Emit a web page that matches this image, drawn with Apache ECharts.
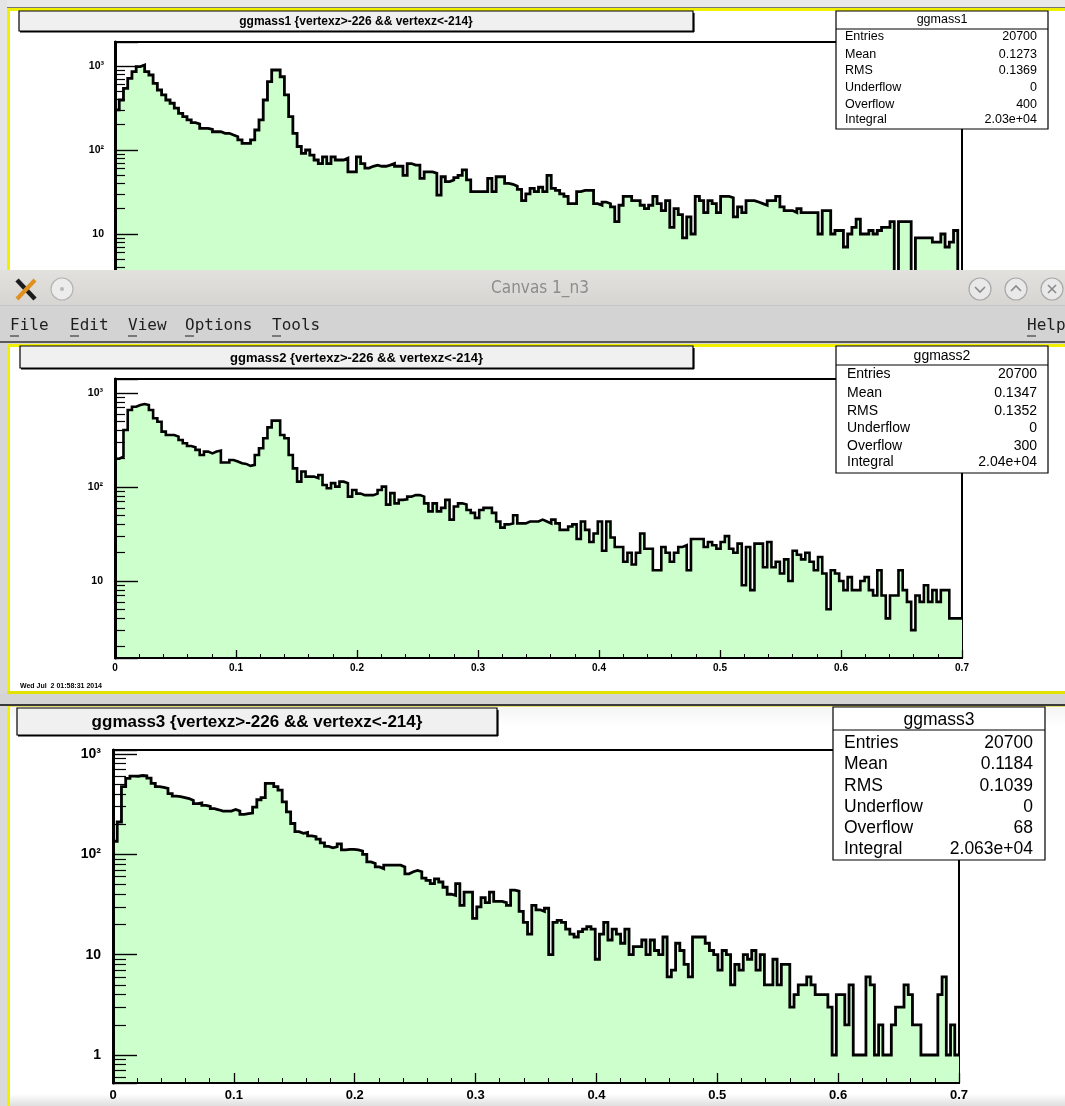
<!DOCTYPE html>
<html><head><meta charset="utf-8">
<script src="https://cdn.jsdelivr.net/npm/echarts@6/dist/echarts.min.js"></script>
<style>html,body{margin:0;padding:0;background:#d9d9d9;}#c{width:1065px;height:1106px;}</style>
</head><body><div id="c"></div>
<script>
// ---------------- DATA ----------------
const xMin = 0, xMax = 0.7;
const xTickLabels = ['0','0.1','0.2','0.3','0.4','0.5','0.6','0.7'];
const yTickValues = [1, 10, 100, 1000];
const yTickText = ['1', '10', '10²', '10³'];

const ggmass1 = [
300,394,543,714,855,982,1028,855,781,622,518,452,394,360,315,273,249,228,212,204,
181,181,176,165,165,158,158,151,144,132,120,120,132,173,228,394,650,896,896,745,
452,249,158,110,91,100,87,76,69,83,69,83,76,76,80,55,55,83,69,61,
64,66,64,64,66,69,64,64,50,69,66,66,46,55,55,53,29,48,42,44,
47,50,58,44,32,32,32,32,46,32,48,48,40,39,37,34,25,30,35,32,
36,32,50,35,33,30,28,23,23,32,33,33,33,23,22,24,23,21,14,22,
28,28,25,25,22,20,22,28,23,19,25,12,20,17,9,16,10,28,25,18,
25,23,18,28,28,27,16,21,18,25,25,24,23,22,25,25,28,21,19,19,
18,20,18,18,18,18,10,19,19,10,11,11,7,10,12,15,10,10,11,10,
11,12,12,14,3,14,14,14,3,9,9,9,9,8,8,10,7,8,11,3];

const ggmass2 = [
200,210,404,660,715,745,764,745,660,538,495,388,358,358,344,316,292,273,265,248,
219,238,228,238,244,182,182,194,187,179,176,168,172,219,258,330,431,508,508,358,
330,219,158,114,146,129,129,124,134,105,97,110,101,114,110,79,93,85,82,82,
82,85,93,101,65,86,67,73,74,79,82,82,79,67,55,67,55,60,73,45,
62,67,65,57,53,47,57,60,60,53,43,37,40,41,50,41,41,43,43,43,
45,43,41,45,41,35,35,38,40,28,43,35,26,32,43,21,43,29,23,23,
16,20,15,20,32,22,22,13,13,23,20,16,20,23,24,13,28,28,28,23,
26,24,22,26,30,22,20,25,9,23,8,25,25,14,26,14,16,12,17,10,
21,19,17,20,16,13,18,12,5,13,12,10,8,11,8,8,10,11,8,7,
13,7,4,7,7,13,8,6,3,7,6,9,6,8,6,8,8,4,4,4];

const ggmass3 = [
135,210,472,572,603,600,610,605,575,510,472,465,455,403,380,375,368,360,345,320,
325,307,300,285,278,270,270,270,280,270,250,254,258,295,350,368,510,510,472,437,
333,265,203,168,162,165,153,150,142,130,120,116,119,127,111,112,112,111,108,100,
84,81,75,72,78,78,78,78,75,64,67,69,67,58,55,51,57,53,47,40,
39,51,31,42,42,23,30,37,33,42,34,34,33,31,44,43,27,21,16,31,
28,27,29,10,21,22,21,18,16,15,17,18,19,18,9,16,21,14,18,16,
13,18,10,12,12,14,10,14,11,10,15,6,7,13,11,8,6,15,15,15,
13,11,10,7,11,10,5,8,7,10,9,11,7,10,5,5,9,5,8,8,
3,4,5,5,6,5,4,4,4,3,1,4,4,2,5,1,1,1,6,5,
1,2,1,1,2,3,3,5,4,2,2,1,1,1,1,4,6,1,2,1];

const histNames = ['ggmass1', 'ggmass2', 'ggmass3'];
const histTitles = ['ggmass1 {vertexz>-226 && vertexz<-214}',
                    'ggmass2 {vertexz>-226 && vertexz<-214}',
                    'ggmass3 {vertexz>-226 && vertexz<-214}'];
const statLabels = ['Entries', 'Mean', 'RMS', 'Underflow', 'Overflow', 'Integral'];
const stats1 = ['20700', '0.1273', '0.1369', '0', '400', '2.03e+04'];
const stats2 = ['20700', '0.1347', '0.1352', '0', '300', '2.04e+04'];
const stats3 = ['20700', '0.1184', '0.1039', '0', '68', '2.063e+04'];
const dateText = 'Wed Jul  2 01:58:31 2014';
const windowTitle = 'Canvas 1_n3';
const menuItems = ['File', 'Edit', 'View', 'Options', 'Tools'];
const menuHelp = 'Help';

// ---------------- LAYOUT ----------------
const hists = [ggmass1, ggmass2, ggmass3];
const statVals = [stats1, stats2, stats3];
const P = [
  {grid:{left:115, top:42, width:847, height:258}, yMin:1.637, yMax:1931,
   yFont:10.5, xFont:10, yMargin:11, xMargin:5, majLen:23, minLen:10, xMaj:8, xMin:4, lw:2.8,
   title:{x:19, y:11, w:674, h:20, fs:12}, stat:{x:836, y:11, w:212, h:118, hy:29, fs:12.5, hfs:12.5,
   lx:845, vx:1037, rows:[37,54.5,71,88,104.5,120], hcy:20}},
  {grid:{left:115, top:379, width:847, height:279}, yMin:1.517, yMax:1409,
   yFont:10.5, xFont:10, yMargin:12, xMargin:5, majLen:23, minLen:10, xMaj:8, xMin:4, lw:2.6,
   title:{x:20, y:346, w:673, h:22, fs:13}, stat:{x:836, y:346, w:212, h:127, hy:365, fs:14, hfs:14,
   lx:847, vx:1037, rows:[374,393,411,428.5,446,462.5], hcy:356}},
  {grid:{left:113, top:750, width:846, height:333}, yMin:0.526, yMax:1096,
   yFont:14, xFont:13, yMargin:12, xMargin:6, majLen:24, minLen:13, xMaj:10, xMin:5, lw:2.8,
   title:{x:17, y:708, w:480, h:27, fs:17}, stat:{x:833, y:707, w:212, h:153, hy:730, fs:17.5, hfs:17.5,
   lx:844, vx:1033, rows:[743,764,786,807,828,849], hcy:720}}
];

function histData(vals) {
  const w = (xMax - xMin) / vals.length;
  const d = vals.map((v, i) => [xMin + i * w, v]);
  d.push([xMax, vals[vals.length - 1]]);
  return d;
}
function minorValues(lo, hi) {
  const out = [];
  for (let e = -1; e <= 4; e++) for (let m = 2; m <= 9; m++) {
    const v = m * Math.pow(10, e);
    if (v >= lo && v <= hi) out.push(Math.log10(v));
  }
  return out;
}
function yLabel(v) {
  for (let i = 0; i < yTickValues.length; i++) {
    if (Math.abs(v - yTickValues[i]) < 1e-6 * yTickValues[i]) return yTickText[i];
  }
  return '';
}

const FONT = 'Liberation Sans';
const grids = [], xAxes = [], yAxes = [], series = [], G = [];

P.forEach((p, i) => {
  grids.push(Object.assign({show:true, borderColor:'#000', borderWidth:2, backgroundColor:'transparent', containLabel:false}, p.grid));
  xAxes.push({gridIndex:i, type:'value', min:0, max:0.7, interval:0.1, z:10,
    axisLine:{show:true, onZero:false, lineStyle:{color:'#000', width:2.2}},
    axisTick:{show:true, inside:true, length:p.xMaj, lineStyle:{color:'#000', width:1.3}},
    minorTick:{show:true, splitNumber:5, length:p.xMin, lineStyle:{color:'#000', width:1}},
    splitLine:{show:false}, minorSplitLine:{show:false},
    axisLabel:{show:true, margin:p.xMargin, fontSize:p.xFont, fontWeight:'bold', fontFamily:FONT, color:'#000',
      formatter: v => xTickLabels[Math.round(v * 10)] || ''}});
  yAxes.push({gridIndex:i, type:'log', logBase:10, min:p.yMin, max:p.yMax, position:'left', z:10,
    axisLine:{show:true, lineStyle:{color:'#000', width:3}},
    axisTick:{show:true, inside:true, length:p.majLen, lineStyle:{color:'#000', width:1.4}},
    splitLine:{show:false}, minorTick:{show:false},
    axisLabel:{show:true, margin:p.yMargin, fontSize:p.yFont, fontWeight:'bold', fontFamily:FONT, color:'#000',
      showMinLabel:true, showMaxLabel:true, formatter: yLabel}});
  series.push({type:'line', xAxisIndex:i, yAxisIndex:i, data:histData(hists[i]), step:'end',
    symbol:'none', showSymbol:false, silent:true, clip:true, z:3,
    lineStyle:{color:'#000', width:p.lw, join:'miter'},
    areaStyle:{color:'#ccffcc', opacity:1, origin:p.yMin}});
});
P.forEach((p, i) => {
  yAxes.push({gridIndex:i, type:'value', min:Math.log10(p.yMin), max:Math.log10(p.yMax), position:'left', z:10,
    axisLine:{show:false}, axisLabel:{show:false}, splitLine:{show:false},
    axisTick:{show:true, inside:true, length:p.minLen, customValues:minorValues(p.yMin, p.yMax),
      lineStyle:{color:'#000', width:1.2}}});
});

// ---------------- GRAPHICS (canvas frames, boxes, window chrome) ----------------
function rect(x, y, w, h, style, z) { G.push({type:'rect', shape:{x, y, width:w, height:h}, style, z:(z === undefined ? -10 : z), silent:true}); }
function text(x, y, str, opt, z) {
  G.push({type:'text', x, y, z:(z === undefined ? 30 : z), silent:true,
    style:Object.assign({text:str, fill:'#000', fontFamily:FONT, fontSize:12, fontWeight:'normal',
      align:'left', verticalAlign:'middle', textAlign:'left', textVerticalAlign:'middle'}, opt)});
}
function line(x1, y1, x2, y2, stroke, w, z) { G.push({type:'line', shape:{x1, y1, x2, y2}, style:{stroke, lineWidth:w}, z:(z === undefined ? 30 : z), silent:true}); }
const YEL = '#f0f000';

// panel 1 canvas
rect(0, 0, 1065, 8, {fill:'#e8e8e8'});
rect(0, 0, 7, 270, {fill:'#e4e4e4'});
rect(10, 11, 1055, 260, {fill:'#ffffff'});
rect(7, 7, 1058, 1, {fill:'#777'});
rect(7, 8, 1058, 3, {fill:YEL});
rect(7, 8, 3, 262, {fill:YEL});
// panel 2 canvas
rect(0, 343, 1065, 352, {fill:'#d6d6d6'});
rect(10, 347, 1055, 345, {fill:'#ffffff'});
rect(7, 344, 1058, 3, {fill:YEL});
rect(7, 344, 3, 350, {fill:YEL});
rect(7, 691, 1058, 3, {fill:'#e2e200'});
// gap and panel 3 canvas
rect(0, 694, 1065, 12, {fill:'#d4d4d4'});
rect(0, 704, 1065, 2, {fill:'#3a3a3a'});
rect(10, 706, 1055, 400, {fill:{type:'linear', x:0, y:0, x2:0, y2:1, colorStops:[
  {offset:0, color:'#f4f4f4'}, {offset:0.05, color:'#ffffff'}, {offset:0.97, color:'#ffffff'}, {offset:1, color:'#dedede'}]}});
rect(7, 706, 3, 400, {fill:YEL});
rect(10, 706, 1055, 1, {fill:'#e6e070'});

// title boxes and stats boxes
P.forEach((p, i) => {
  const t = p.title;
  rect(t.x, t.y, t.w, t.h, {fill:'#f0f0f0', stroke:'#000', lineWidth:1.2}, 20);
  line(t.x + 1, t.y + t.h + 0.8, t.x + t.w + 1, t.y + t.h + 0.8, '#000', 1.6, 21);
  line(t.x + t.w + 0.8, t.y + 2, t.x + t.w + 0.8, t.y + t.h + 1, '#000', 1.6, 21);
  text(t.x + t.w / 2, t.y + t.h / 2 + 1, histTitles[i], {fontSize:t.fs, fontWeight:'bold', align:'center', textAlign:'center'});
  const s = p.stat;
  rect(s.x, s.y, s.w, s.h, {fill:'#ffffff', stroke:'#000', lineWidth:1.2}, 20);
  line(s.x, s.hy, s.x + s.w, s.hy, '#000', 1.2, 21);
  text(s.x + s.w / 2, s.hcy, histNames[i], {fontSize:s.hfs, align:'center', textAlign:'center'});
  statLabels.forEach((lab, k) => {
    text(s.lx, s.rows[k], lab, {fontSize:s.fs});
    text(s.vx, s.rows[k], statVals[i][k], {fontSize:s.fs, align:'right', textAlign:'right'});
  });
});
text(20, 686, dateText, {fontSize:7, fontWeight:'bold'});

// window chrome
rect(0, 270, 1065, 36, {fill:{type:'linear', x:0, y:0, x2:0, y2:1, colorStops:[
  {offset:0, color:'#e3e1dd'}, {offset:1, color:'#d7d5d1'}]}}, 50);
rect(0, 306, 1065, 37, {fill:'#d3d3d3'}, 50);
rect(0, 305, 1065, 1, {fill:'#c6c6c6'}, 51);
rect(0, 341, 1065, 2, {fill:'#5a5a5a'}, 51);
text(540, 289, windowTitle, {fontFamily:'DejaVu Sans Condensed', fontSize:17, fill:'#8c8c8c', align:'center', textAlign:'center'}, 55);
// X logo
line(17, 280, 35, 299, '#1c1c1c', 4.5, 55);
line(35, 280, 17, 299, '#e0901e', 4, 55);
// round buttons
G.push({type:'circle', shape:{cx:62, cy:289, r:11}, style:{fill:'#ececec', stroke:'#b4b4b4', lineWidth:1.2}, z:55, silent:true});
G.push({type:'circle', shape:{cx:62, cy:289, r:2}, style:{fill:'#b8b8b8'}, z:56, silent:true});
[980, 1016, 1052].forEach((cx, k) => {
  G.push({type:'circle', shape:{cx, cy:289, r:11}, style:{fill:'#e9e9e9', stroke:'#a9a9a9', lineWidth:1.2}, z:55, silent:true});
  let pts;
  if (k === 0) pts = [[cx - 5, cy0() - 2], [cx, cy0() + 3], [cx + 5, cy0() - 2]];
  else if (k === 1) pts = [[cx - 5, cy0() + 2], [cx, cy0() - 3], [cx + 5, cy0() + 2]];
  if (pts) G.push({type:'polyline', shape:{points:pts}, style:{stroke:'#8a8a8a', lineWidth:1.6, fill:null}, z:56, silent:true});
  else { line(cx - 4, 285, cx + 4, 293, '#8a8a8a', 1.6, 56); line(cx + 4, 285, cx - 4, 293, '#8a8a8a', 1.6, 56); }
});
function cy0() { return 289; }
// menu
const menuX = [10, 70, 128, 185, 272];
menuItems.forEach((m, k) => {
  text(menuX[k], 326, m, {fontFamily:'DejaVu Sans Mono', fontSize:16, fill:'#1e1e1e'}, 55);
  line(menuX[k], 336, menuX[k] + 9, 336, '#1e1e1e', 1, 56);
});
text(1027, 326, menuHelp, {fontFamily:'DejaVu Sans Mono', fontSize:16, fill:'#1e1e1e'}, 55);
line(1027, 336, 1036, 336, '#1e1e1e', 1, 56);

const chart = echarts.init(document.getElementById('c'), null, {renderer:'canvas'});
chart.setOption({
  animation:false,
  backgroundColor:'#d9d9d9',
  grid:grids, xAxis:xAxes, yAxis:yAxes, series:series,
  graphic:{elements:G}
});
</script></body></html>
